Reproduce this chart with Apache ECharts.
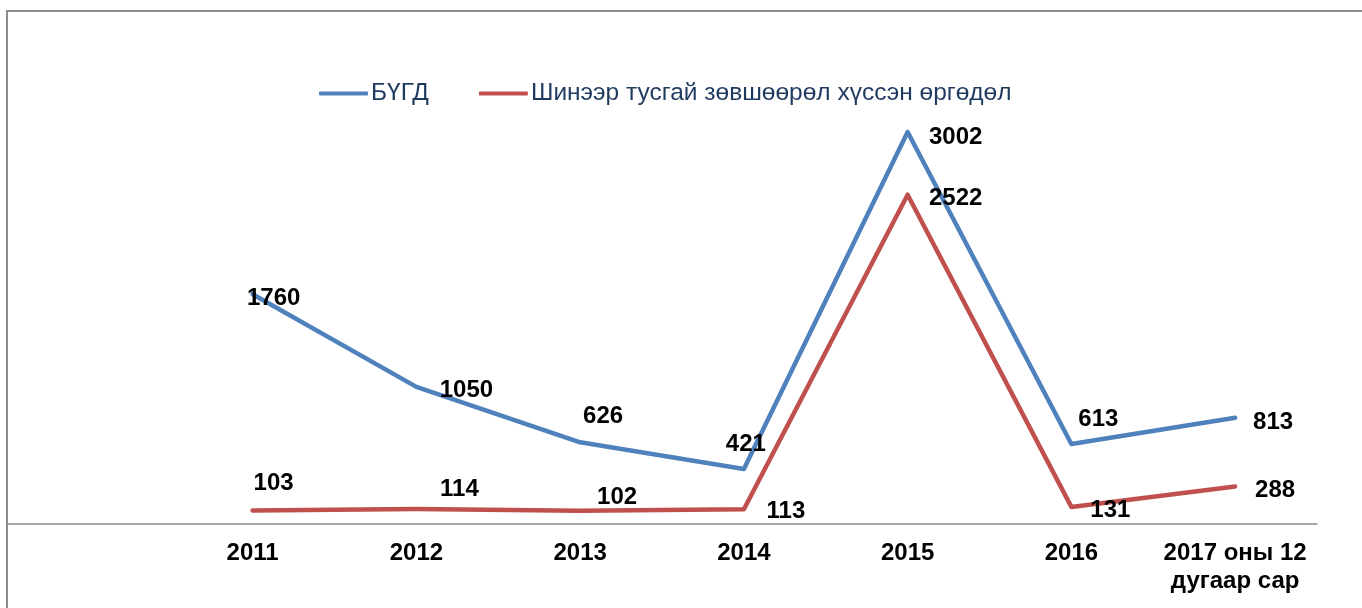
<!DOCTYPE html>
<html>
<head>
<meta charset="utf-8">
<script src="https://cdn.jsdelivr.net/npm/echarts@6/dist/echarts.min.js"></script>
<style>
  html, body { margin: 0; padding: 0; background: #fff; }
  #main { width: 1362px; height: 608px; }
</style>
</head>
<body>
<div id="main"></div>
<script>
// ангилал (эхнийх нь хоосон зай)
var categories = ['', '2011', '2012', '2013', '2014', '2015', '2016', '2017 оны 12\nдугаар сар'];
var seriesNames = ['БҮГД', 'Шинээр тусгай зөвшөөрөл хүссэн өргөдөл'];
var totalValues = [null, 1760, 1050, 626, 421, 3002, 613, 813];
var newValues = [null, 103, 114, 102, 113, 2522, 131, 288];

// шошгын байрлал (цэгээс хэдэн px)
var totalLabelOffsets = [null, [21, 4], [50, 3], [23, -26], [2, -25], [48, 5], [27, -25], [38, 5]];
var newLabelOffsets = [null, [21, -27], [43, -20], [37, -13], [42, 2], [48, 4], [39, 3], [40, 4]];

var myChart = echarts.init(document.getElementById('main'));

var buildData = function (values, offsets) {
    var res = [];
    for (var i = 0; i < values.length; i++) {
        if (values[i] == null) {
            res.push('-');
            continue;
        }
        res.push({
            value: values[i],
            label: { offset: offsets[i] }
        });
    }
    return res;
};

var fontFamily = 'Liberation Sans, Arial, sans-serif';

var labelStyle = {
    show: true,
    position: 'inside',
    align: 'center',
    verticalAlign: 'middle',
    color: '#000',
    fontFamily: fontFamily,
    fontWeight: 'bold',
    fontSize: 24
};

option = {
    backgroundColor: '#FFFFFF',
    animation: false,
    graphic: [{
        type: 'rect',
        shape: { x: 7, y: 11, width: 1400, height: 700 },
        style: { fill: 'none', stroke: '#8c8c8c', lineWidth: 2 },
        silent: true
    }],
    legend: {
        left: 314,
        top: 76,
        icon: 'roundRect',
        itemWidth: 49,
        itemHeight: 4,
        itemGap: 50,
        data: seriesNames,
        textStyle: {
            color: '#1f3a5f',
            fontFamily: fontFamily,
            fontSize: 24.5,
            padding: [0, 0, 0, -2]
        }
    },
    grid: {
        left: 7,
        right: 45,
        top: 67,
        bottom: 84
    },
    xAxis: {
        type: 'category',
        data: categories,
        axisLine: { lineStyle: { color: '#8c8c8c', width: 1.5 } },
        axisTick: { show: false },
        axisLabel: {
            interval: 0,
            margin: 15,
            color: '#000',
            fontFamily: fontFamily,
            fontWeight: 'bold',
            fontSize: 24,
            lineHeight: 28
        }
    },
    yAxis: {
        type: 'value',
        min: 0,
        max: 3500,
        show: false,
        splitLine: { show: false }
    },
    series: [
        {
            name: seriesNames[0],
            type: 'line',
            symbol: 'circle',
            symbolSize: 1,
            data: buildData(totalValues, totalLabelOffsets),
            lineStyle: { color: '#4f81bd', width: 4.5, cap: 'round', join: 'round' },
            itemStyle: { color: '#4f81bd' },
            label: labelStyle
        },
        {
            name: seriesNames[1],
            type: 'line',
            symbol: 'circle',
            symbolSize: 1,
            data: buildData(newValues, newLabelOffsets),
            lineStyle: { color: '#c0504d', width: 4.5, cap: 'round', join: 'round' },
            itemStyle: { color: '#c0504d' },
            label: labelStyle
        }
    ]
};
myChart.setOption(option);
</script>
</body>
</html>
